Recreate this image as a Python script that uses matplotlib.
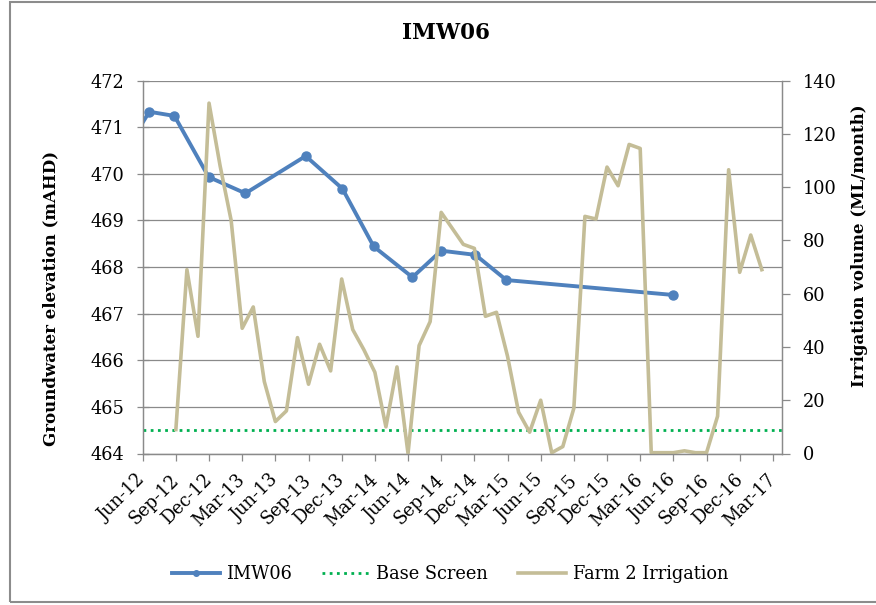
import numpy as np
import pandas as pd
import matplotlib
matplotlib.use("Agg")
import matplotlib.pyplot as plt
from matplotlib.lines import Line2D
from matplotlib.patches import Rectangle

plt.rcParams['font.family'] = ['DejaVu Serif']

# groundwater level readings at IMW06 (mAHD)
gw_dates = ['2012-05-19', '2012-06-19', '2012-08-28', '2012-11-30', '2013-03-10',
            '2013-08-24', '2013-12-03', '2014-02-26', '2014-06-13', '2014-09-01',
            '2014-12-04', '2015-02-26', '2016-06-01']
gw_level = [470.94, 471.33, 471.24, 469.93, 469.58,
            470.38, 469.68, 468.44, 467.78, 468.35,
            468.26, 467.72, 467.40]

# base of screen (mAHD)
base_screen = 464.5

# monthly irrigation volume, Farm 2 (ML/month), starting Sep-12
irr_start = '2012-09-01'
irr_volume = [9, 69, 44, 131.5,
              108, 87.5, 47, 55, 27, 12, 16, 43.5, 26, 41, 31, 65.5,
              46.5, 39, 30.5, 10, 32.5, 0, 40.5, 49.5, 90.5, 84.5, 78.5, 77,
              51.5, 53, 36.5, 15.5, 8, 20, 0.3, 2.6, 17, 89, 88, 107.5,
              100.5, 116, 114.5, 0.3, 0.3, 0.3, 1, 0.3, 0.3, 14, 106.5, 68,
              82, 69]

tick_dates = pd.date_range('2012-06-01', periods=20, freq='3MS')
tick_labels = [d.strftime('%b-%y') for d in tick_dates]

blue = '#4F81BD'
tan = '#C4BD97'
green = '#00B050'
grey = '#8A8A8A'


def month_pos(ts):
    # months since Jun-12, fractional within the month
    return (ts.year - 2012) * 12 + ts.month - 6 + (ts.day - 1) / ts.days_in_month


gw_x = [month_pos(pd.Timestamp(d)) for d in gw_dates]
irr_x = [month_pos(d) for d in pd.date_range(irr_start, periods=len(irr_volume), freq='MS')]
tick_x = [month_pos(d) for d in tick_dates]

W, H = 876, 605
fig = plt.figure(figsize=(W / 100, H / 100), dpi=100)
ax = fig.add_axes([142.7 / W, 1 - 453.5 / H, 639 / W, 373 / H])
ax2 = ax.twinx()

ax.set_xlim(0, 57.8)
ax.set_ylim(464, 472)
ax2.set_ylim(0, 140)

ax.set_yticks(np.arange(464, 473, 1))
ax2.set_yticks(np.arange(0, 141, 20))
ax.set_xticks(tick_x)
ax.set_xticklabels(tick_labels, rotation=45, ha='right', va='center',
                   rotation_mode='anchor')

ax.grid(axis='y', color=grey, lw=0.9)
ax.set_axisbelow(True)

ax.plot(gw_x, gw_level, color=blue, lw=2.8, marker='o', ms=6.5, label='IMW06',
        zorder=3)
ax.axhline(base_screen, color=green, lw=2.0, ls=(0, (1, 1.6)), zorder=2)
ax2.plot(irr_x, irr_volume, color=tan, lw=2.6, zorder=2)

for a in (ax, ax2):
    a.spines['top'].set_visible(False)
    for s in ('left', 'right', 'bottom'):
        a.spines[s].set_color(grey)
        a.spines[s].set_linewidth(0.9)

ax.tick_params(axis='y', direction='inout', length=9, width=0.9, color=grey,
               labelsize=12.8, pad=9)
ax.tick_params(axis='x', direction='out', length=5, width=0.9, color=grey,
               labelsize=12.8, pad=12)
ax2.tick_params(axis='y', direction='out', length=6, width=0.9, color=grey,
                labelsize=12.8, pad=9)

fig.text(446 / W, 1 - 33 / H, 'IMW06', ha='center', va='center',
         fontsize=15.5, fontweight='bold')
fig.text(51 / W, 1 - 298 / H, 'Groundwater elevation (mAHD)', rotation=90,
         ha='center', va='center', fontsize=12, fontweight='bold')
fig.text(859 / W, 1 - 246 / H, 'Irrigation volume (ML/month)', rotation=90,
         ha='center', va='center', fontsize=12, fontweight='bold')

handles = [
    Line2D([], [], color=blue, lw=2.8, marker='o', ms=4),
    Line2D([], [], color=green, lw=2.0, ls=(0, (1, 1.6))),
    Line2D([], [], color=tan, lw=2.6),
]
fig.legend(handles, ['IMW06', 'Base Screen', 'Farm 2 Irrigation'],
           loc='center', bbox_to_anchor=(450 / W, 1 - 574 / H), ncol=3,
           frameon=False, fontsize=12.8, handlelength=2.7, handletextpad=0.35,
           columnspacing=1.7)

# chart area frame
fig.patches.append(Rectangle((10 / W, 1 - 602 / H), 1.0, 600 / H,
                             transform=fig.transFigure, fill=False,
                             edgecolor='#8C8C8C', lw=1.5))

fig.savefig('out.png', dpi=100)
